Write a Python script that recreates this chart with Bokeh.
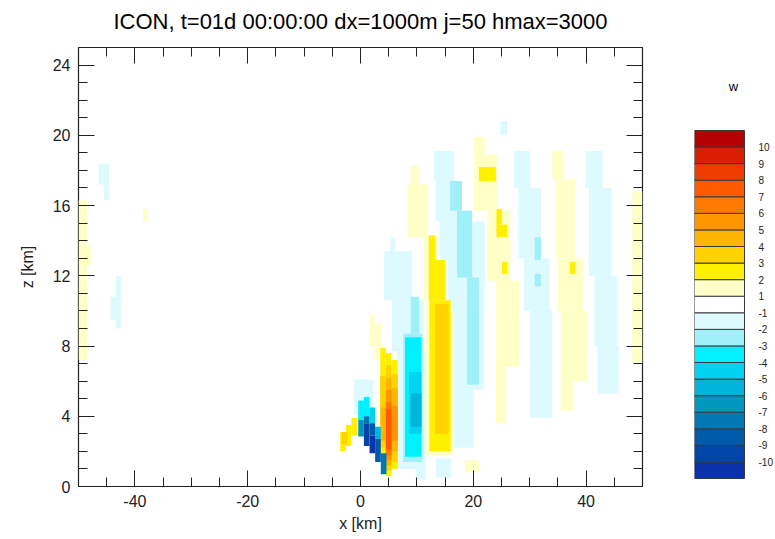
import numpy as np
from bokeh.plotting import figure
from bokeh.layouts import row, column
from bokeh.models import Range1d, FixedTicker, LinearAxis, ColumnDataSource
from bokeh.core.properties import value
from bokeh.embed import file_html
from bokeh.resources import INLINE

FONT = "Liberation Sans"

title_text = "ICON, t=01d 00:00:00 dx=1000m j=50 hmax=3000"
x_label = "x [km]"
z_label = "z [km]"
cbar_title = "w"

x_ticks = [-40, -20, 0, 20, 40]
x_minor = [-45, -35, -30, -25, -15, -10, -5, 5, 10, 15, 25, 30, 35, 45]
z_ticks = [0, 4, 8, 12, 16, 20, 24]
z_minor = [1, 2, 3, 5, 6, 7, 9, 10, 11, 13, 14, 15, 17, 18, 19, 21, 22, 23, 25]

# contour levels of w [m/s] and their fill colours (lowest bin first)
w_levels = [-10, -9, -8, -7, -6, -5, -4, -3, -2, -1, 1, 2, 3, 4, 5, 6, 7, 8, 9, 10]
w_colors = ["#0a32aa", "#0046aa", "#005aaa", "#0078b4", "#0096be", "#00b4dc",
            "#00d2f0", "#00f0ff", "#a0f0fa", "#dcfaff", "#ffffff", "#ffffc8",
            "#fff000", "#ffd200", "#ffb400", "#ff9600", "#ff7800", "#ff5a00",
            "#f03c00", "#dc1e00", "#b40000"]

# cells: (x0 km, x1 km, z0 km, z1 km, w m/s)
far_left = [
    (-50.0, -48.5, 7.2, 16.3, 1.5),
    (-48.5, -47.7, 12.6, 13.7, 1.5),
    (-46.4, -44.6, 17.2, 18.4, -1.5),
    (-45.5, -44.6, 16.3, 17.2, -1.5),
    (-43.4, -42.5, 10.8, 12.0, -1.5),
    (-44.3, -42.5, 9.5, 10.8, -1.5),
    (-43.4, -42.5, 9.0, 9.5, -1.5),
    (-38.6, -37.8, 15.1, 15.8, 1.5),
]

mountain = [
    # updraft chevron upstream of the crest
    (-3.6, -2.6, 2.0, 3.1, 2.5),
    (-2.6, -1.6, 2.3, 3.5, 2.5),
    (-1.6, -0.6, 2.9, 3.9, 2.5),
    (-3.3, -2.3, 2.4, 3.1, 3.5),
    # pale cap above the downdraft
    (-1.1, 2.3, 4.1, 6.1, -1.5),
    # lee downdraft
    (-0.4, 0.6, 3.8, 4.9, -3.5), (-0.4, 0.6, 2.85, 3.8, -6.5),
    (0.6, 1.6, 4.0, 5.1, -3.5), (0.6, 1.6, 3.6, 4.0, -7.5), (0.6, 1.6, 2.3, 3.6, -9.5),
    (1.6, 2.6, 3.6, 4.5, -4.5), (1.6, 2.6, 2.9, 3.6, -8.5), (1.6, 2.6, 1.9, 2.9, -10.5),
    (2.6, 3.6, 2.7, 3.4, -5.5), (2.6, 3.6, 1.4, 2.7, -8.5),
    (3.6, 4.6, 0.7, 1.9, -7.5),
    # lee updraft column
    (3.5, 4.5, 1.9, 7.9, 2.5), (3.5, 4.5, 2.2, 6.3, 3.5), (3.6, 4.5, 2.6, 4.5, 4.5),
    (4.5, 5.5, 0.6, 7.6, 2.5), (4.5, 5.5, 0.9, 6.9, 3.5), (4.5, 5.5, 1.2, 6.2, 4.5),
    (4.5, 5.5, 1.5, 5.5, 5.5), (4.5, 5.5, 1.8, 4.8, 6.5), (4.5, 5.5, 2.1, 4.4, 7.5),
    (5.5, 6.6, 1.0, 7.2, 2.5), (5.5, 6.6, 1.4, 6.4, 3.5), (5.5, 6.6, 2.0, 5.6, 4.5),
    (5.5, 6.6, 2.6, 4.6, 5.5),
    (1.5, 2.5, 8.0, 9.8, 1.5), (2.5, 3.6, 7.2, 9.3, 1.5),
]

wave_1 = [
    (5.3, 6.2, 13.4, 14.2, -1.5),
    (4.2, 9.2, 10.6, 13.4, -1.5),
    (5.6, 11.2, 7.7, 10.6, -1.5),
    (6.5, 11.6, 1.0, 7.7, -1.5),
    (9.8, 11.6, 0.4, 1.1, -1.5),
    (8.9, 10.4, 8.7, 10.8, -2.5),
    (7.6, 11.0, 1.4, 8.7, -2.5),
    (7.9, 10.8, 1.7, 8.5, -3.5),
    (8.6, 10.8, 3.0, 6.5, -4.5),
    (8.9, 10.8, 3.4, 5.3, -5.5),
]

wave_2 = [
    (8.9, 10.3, 17.2, 18.3, 1.5),
    (8.3, 12.0, 14.2, 17.2, 1.5),
    (11.2, 13.6, 10.6, 14.2, 1.5),
    (11.6, 16.4, 1.8, 10.6, 1.5),
    (12.1, 13.3, 12.9, 14.3, 2.5),
    (12.1, 15.0, 10.6, 12.9, 2.5),
    (12.2, 16.0, 2.0, 10.6, 2.5),
    (13.2, 15.6, 3.0, 10.4, 3.5),
]

wave_3 = [
    (13.0, 16.6, 17.4, 19.1, -1.5),
    (13.3, 17.5, 15.1, 17.4, -1.5),
    (14.0, 22.0, 12.9, 15.1, -1.5),
    (15.5, 22.0, 10.0, 12.9, -1.5),
    (16.5, 21.9, 5.5, 10.0, -1.5),
    (16.5, 20.0, 2.2, 5.5, -1.5),
    (13.4, 16.0, 0.5, 1.6, -1.5),
    (15.9, 18.0, 15.7, 17.4, -2.5),
    (17.1, 19.8, 11.9, 15.7, -2.5),
    (18.9, 21.0, 5.8, 11.9, -2.5),
]

wave_4 = [
    (20.1, 22.2, 18.9, 19.9, 1.5),
    (20.1, 24.2, 15.7, 18.9, 1.5),
    (22.5, 26.6, 11.7, 15.7, 1.5),
    (24.0, 28.1, 6.8, 11.7, 1.5),
    (24.0, 25.8, 3.6, 6.8, 1.5),
    (18.5, 21.0, 0.8, 1.5, 1.5),
    (21.0, 24.0, 17.4, 18.2, 2.5),
    (24.1, 25.1, 14.9, 15.8, 2.5),
    (24.1, 26.0, 14.2, 14.9, 2.5),
    (25.1, 26.0, 12.1, 12.8, 2.5),
    (24.8, 26.0, 20.0, 20.8, -1.5),
]

wave_5 = [
    (27.2, 30.1, 17.0, 19.1, -1.5),
    (28.0, 32.0, 13.0, 17.0, -1.5),
    (29.0, 33.5, 10.0, 13.0, -1.5),
    (30.1, 34.0, 3.9, 10.0, -1.5),
    (30.9, 32.0, 12.9, 14.2, -2.5),
    (30.9, 32.0, 11.4, 12.1, -2.5),
]

wave_6 = [
    (34.0, 36.0, 17.5, 19.1, 1.5),
    (34.5, 38.0, 13.0, 17.5, 1.5),
    (35.0, 39.5, 10.0, 13.0, 1.5),
    (35.5, 40.2, 6.0, 10.0, 1.5),
    (35.5, 37.8, 4.3, 6.0, 1.5),
    (37.1, 38.1, 12.1, 12.8, 2.5),
]

wave_7 = [
    (39.9, 42.9, 17.0, 19.1, -1.5),
    (40.5, 44.5, 12.0, 17.0, -1.5),
    (41.5, 45.5, 8.0, 12.0, -1.5),
    (42.0, 45.8, 5.3, 8.0, -1.5),
    (48.2, 50.0, 7.0, 16.8, 1.5),
]

cells = far_left + mountain + wave_1 + wave_2 + wave_3 + wave_4 + wave_5 + wave_6 + wave_7
cells = sorted(cells, key=lambda c: abs(c[4]))
cx0, cx1, cz0, cz1, cw = map(list, zip(*cells))
cidx = np.digitize(cw, w_levels)
ccol = [w_colors[i] for i in cidx]
src = ColumnDataSource(dict(x0=cx0, x1=cx1, z0=cz0, z1=cz1, color=ccol))

INK = "#222222"

# page geometry (pixels)
FRAME_L, FRAME_R, FRAME_T, FRAME_B = 78, 642, 47, 486
PAGE_W, PAGE_H = 774, 539
TITLE_H = 36
TITLE_MID = 20.5
MAIN_W = 650
BAR_L, BAR_R, BAR_T, BAR_B = 694, 744, 130, 478
LABEL_GAP = 14
W_TITLE_Y = 86
PLOT_H = PAGE_H - TITLE_H
TOP_B = FRAME_T - TITLE_H
BOT_B = PAGE_H - FRAME_B

# title strip
tf = figure(width=MAIN_W, height=TITLE_H, x_range=Range1d(0, MAIN_W - FRAME_L),
            y_range=Range1d(0, TITLE_H), output_backend="svg", toolbar_location=None,
            x_axis_location=None, y_axis_location=None,
            min_border_left=FRAME_L, min_border_right=0, min_border_top=0, min_border_bottom=0)
tf.grid.visible = False
tf.outline_line_color = None
tf.background_fill_color = "white"
tf.border_fill_color = "white"
tf.text(x=[(FRAME_R - FRAME_L) / 2], y=[TITLE_H - TITLE_MID], text=[title_text],
        text_font=value(FONT), text_font_size="22px", text_align="center",
        text_baseline="middle", text_color="black")

p = figure(width=MAIN_W, height=PLOT_H, x_range=Range1d(-50, 50), y_range=Range1d(0, 25),
           output_backend="svg", toolbar_location=None,
           x_axis_label=x_label, y_axis_label=z_label,
           min_border_left=FRAME_L, min_border_right=MAIN_W - FRAME_R,
           min_border_top=TOP_B, min_border_bottom=BOT_B)
bottom_ax = p.below[0]
left_ax = p.left[0]
p.grid.visible = False
p.background_fill_color = "white"
p.border_fill_color = "white"
p.outline_line_color = INK
p.outline_line_width = 1.2

p.quad(source=src, left="x0", right="x1", bottom="z0", top="z1",
       fill_color="color", line_color=None)

top_ax = LinearAxis()
right_ax = LinearAxis()
p.add_layout(top_ax, "above")
p.add_layout(right_ax, "right")


def style_axis(ax, major, minor, labelled):
    ax.ticker = FixedTicker(ticks=major, minor_ticks=minor)
    ax.major_tick_in = 16
    ax.major_tick_out = 0
    ax.minor_tick_in = 9
    ax.minor_tick_out = 0
    ax.major_tick_line_color = INK
    ax.minor_tick_line_color = INK
    ax.axis_line_color = None
    ax.major_label_text_font = FONT
    ax.major_label_text_color = INK
    ax.axis_label_text_font = FONT
    ax.axis_label_text_font_style = "normal"
    ax.axis_label_text_font_size = "16px"
    ax.axis_label_text_color = INK
    if labelled:
        ax.major_label_text_font_size = "16px"
        ax.major_label_standoff = 8
        ax.major_label_overrides = {t: str(t) for t in major}
    else:
        ax.major_label_text_font_size = "0px"
        ax.major_label_overrides = {t: "" for t in major}
        ax.major_label_standoff = 0


style_axis(bottom_ax, x_ticks, x_minor, True)
style_axis(left_ax, z_ticks, z_minor, True)
style_axis(top_ax, x_ticks, x_minor, False)
style_axis(right_ax, z_ticks, z_minor, False)
bottom_ax.axis_label_standoff = 5
left_ax.major_label_standoff = 8
left_ax.axis_label_standoff = 14

# colour bar as its own small figure, its frame aligned with the main frame
nbin = len(w_colors)
cb_w = PAGE_W - MAIN_W
unit_px = (BAR_B - BAR_T) / nbin
bar_px = BAR_R - BAR_L
cb_frame_w = cb_w - (BAR_L - MAIN_W)
cb = figure(width=cb_w, height=PLOT_H,
            x_range=Range1d(0, cb_frame_w / bar_px),
            y_range=Range1d(-(FRAME_B - BAR_B) / unit_px, nbin + (BAR_T - FRAME_T) / unit_px),
            output_backend="svg", toolbar_location=None,
            x_axis_location=None, y_axis_location=None,
            min_border_left=BAR_L - MAIN_W, min_border_right=0,
            min_border_top=TOP_B, min_border_bottom=BOT_B)
cb.grid.visible = False
cb.outline_line_color = None
cb.background_fill_color = "white"
cb.border_fill_color = "white"

bins = list(range(nbin))
cb.quad(left=[0] * nbin, right=[1] * nbin, bottom=bins, top=[b + 1 for b in bins],
        fill_color=w_colors, line_color="#3a3a3a", line_width=1)
cb.text(x=[1 + LABEL_GAP / bar_px] * len(w_levels), y=list(range(1, nbin)),
        text=[str(v) for v in w_levels],
        text_font=value(FONT), text_font_size="10px", text_align="left",
        text_baseline="middle", text_color=INK)
cb.text(x=[(733 - BAR_L) / bar_px], y=[nbin + (BAR_T - W_TITLE_Y) / unit_px], text=[cbar_title],
        text_font=value(FONT), text_font_size="13px", text_align="center",
        text_baseline="middle", text_color="black")

layout = column(tf, row(p, cb))
open("out.html", "w").write(file_html(layout, INLINE))
